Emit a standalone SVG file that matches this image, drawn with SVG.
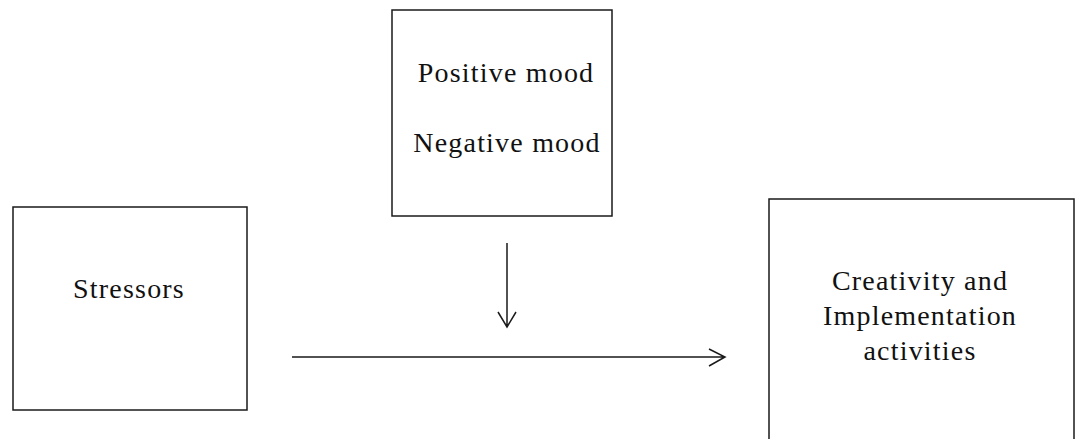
<svg xmlns="http://www.w3.org/2000/svg" width="1080" height="439" viewBox="0 0 1080 439">
<style>
.box{fill:#fff;stroke:#1a1a1a;stroke-width:1.5}
.t{font-family:"Liberation Serif","DejaVu Serif",serif;font-size:28px;letter-spacing:1.2px;fill:#111;text-anchor:middle}
.c{fill:none;stroke:#1a1a1a;stroke-width:1.5}
</style>
<rect width="1080" height="439" fill="#fff"/>
<g id="mood">
<rect class="box" x="392" y="10" width="220" height="206"/>
<text class="t" x="506" y="82">Positive mood</text>
<text class="t" x="507" y="152">Negative mood</text>
</g>
<g id="stressors">
<rect class="box" x="13" y="207" width="234" height="203"/>
<text class="t" x="129" y="298">Stressors</text>
</g>
<g id="creativity">
<rect class="box" x="769" y="199" width="305" height="260"/>
<text class="t" x="920" y="290">Creativity and</text>
<text class="t" x="920" y="325">Implementation</text>
<text class="t" x="920" y="360">activities</text>
</g>
<g id="connectors">
<path class="c" d="M507 243V327M498 312L507 327L516 312"/>
<path class="c" d="M292 357H725M709 349L725 357L709 366"/>
</g>
</svg>
